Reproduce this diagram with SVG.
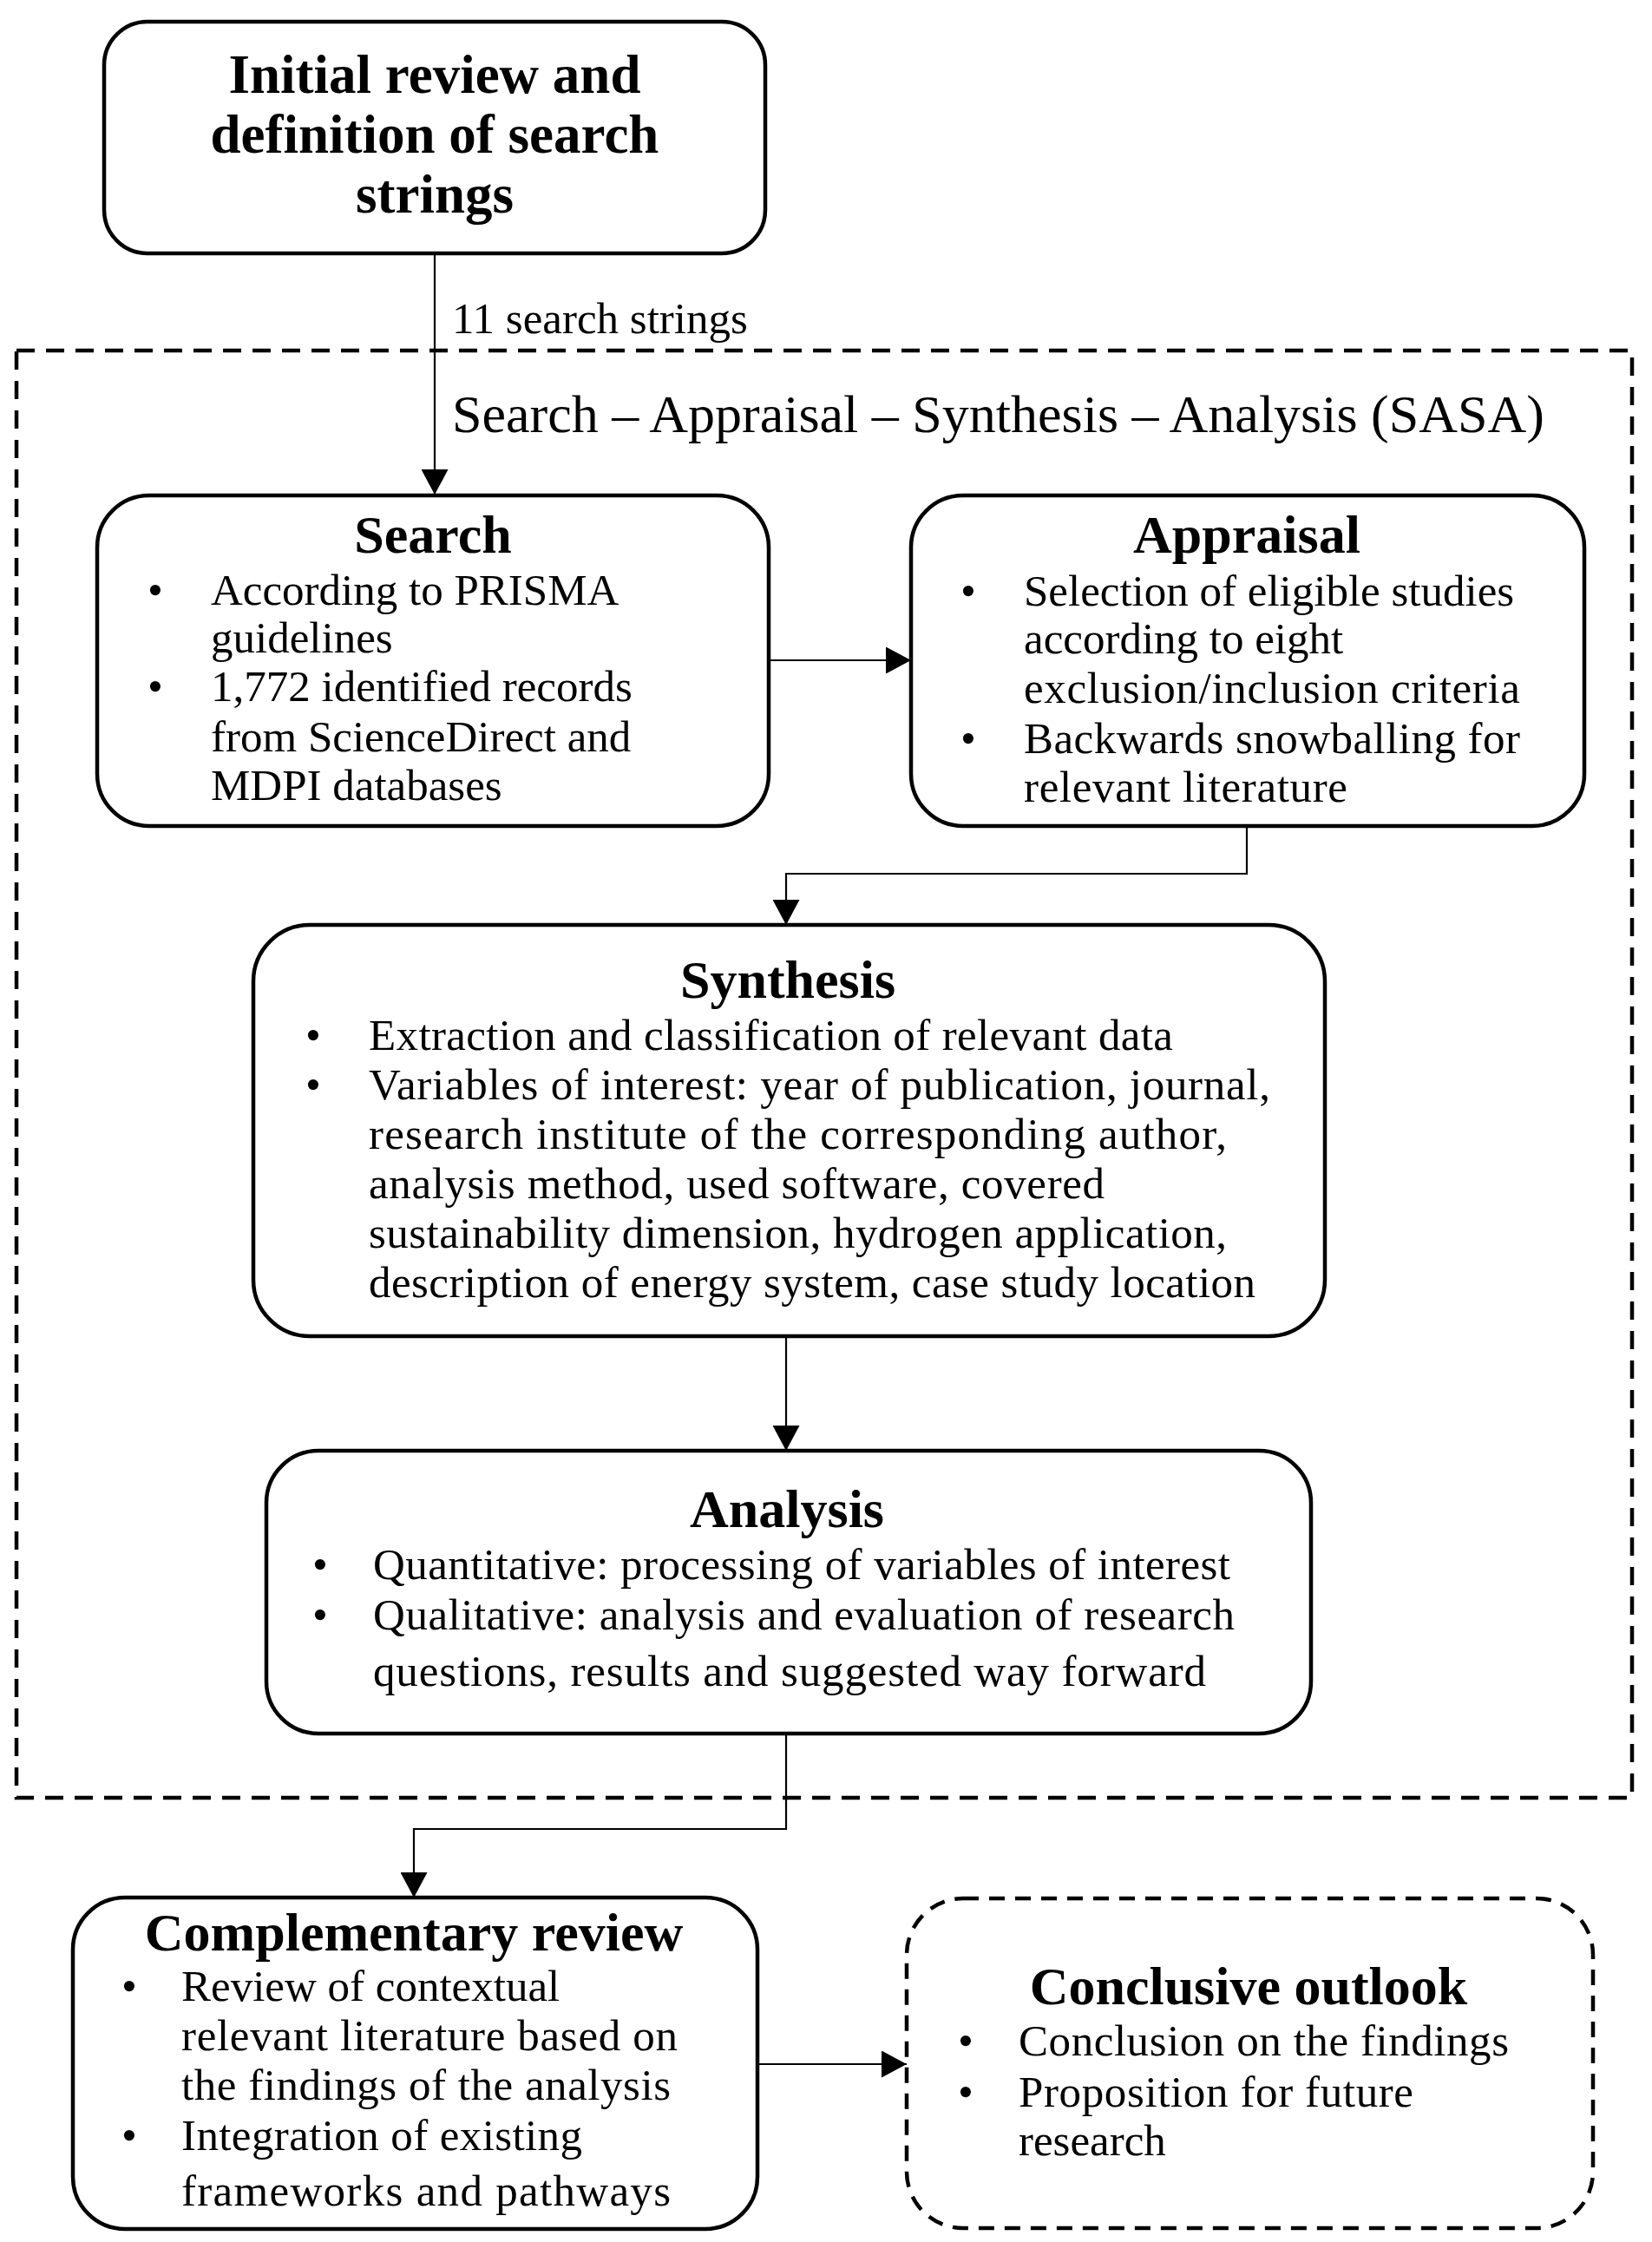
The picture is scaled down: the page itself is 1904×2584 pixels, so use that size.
<svg xmlns="http://www.w3.org/2000/svg" width="1904" height="2584" viewBox="0 0 1904 2584">
<style>
.box{fill:#fff;stroke:#000;stroke-width:4.5}
.dbox{fill:none;stroke:#000;stroke-width:4.5;stroke-dasharray:18 12}
.outer{fill:none;stroke:#000;stroke-width:4.5;stroke-dasharray:21 13}
.conn{fill:none;stroke:#000;stroke-width:2.2}
.t{font-family:"Liberation Serif","Times New Roman",serif;font-size:62px;font-weight:bold;text-anchor:middle;fill:#000}
.b{font-family:"Liberation Serif","Times New Roman",serif;font-size:51px;fill:#000}
.lbl{font-family:"Liberation Serif","Times New Roman",serif;font-size:51px;fill:#000}
.sasa{font-family:"Liberation Serif","Times New Roman",serif;font-size:62px;fill:#000}
</style>
<defs>
<marker id="arr" markerUnits="userSpaceOnUse" markerWidth="29" markerHeight="31" viewBox="0 0 29 31" refX="29" refY="15.5" orient="auto">
<path d="M0,0 L29,15.5 L0,31 z" fill="#000"/>
</marker>
</defs>
<rect fill="#fff" x="0" y="0" width="1904" height="2584"/>

<rect id="sasa-frame" class="outer" x="19" y="404" width="1862" height="1668"/>
<text class="sasa" x="521" y="498">Search – Appraisal – Synthesis – Analysis (SASA)</text>

<g id="connectors">
<path class="conn" d="M501,292 V570" marker-end="url(#arr)"/>
<path class="conn" d="M887,761 H1050" marker-end="url(#arr)"/>
<path class="conn" d="M1437,952 V1007 H906 V1066" marker-end="url(#arr)"/>
<path class="conn" d="M906,1540 V1672" marker-end="url(#arr)"/>
<path class="conn" d="M906,1998 V2108 H477 V2187" marker-end="url(#arr)"/>
<path class="conn" d="M873,2379 H1045" marker-end="url(#arr)"/>
<text class="lbl" x="521" y="384">11 search strings</text>
</g>

<g id="initial-review">
<rect class="box" x="120" y="25" width="762" height="267" rx="50"/>
<text class="t" style="font-size:63px" x="501" y="107">Initial review and</text>
<text class="t" style="font-size:63px" x="501" y="176">definition of search</text>
<text class="t" style="font-size:63px" x="501" y="245">strings</text>
</g>

<g id="search">
<rect class="box" x="112" y="571" width="774" height="381" rx="60"/>
<text class="t" x="499" y="637">Search</text>
<text class="b" x="170" y="697">•</text>
<text class="b" x="243" y="697">According to PRISMA</text>
<text class="b" x="243" y="752">guidelines</text>
<text class="b" x="170" y="808">•</text>
<text class="b" x="243" y="808">1,772 identified records</text>
<text class="b" x="243" y="866">from ScienceDirect and</text>
<text class="b" x="243" y="922">MDPI databases</text>
</g>

<g id="appraisal">
<rect class="box" x="1050" y="571" width="776" height="381" rx="60"/>
<text class="t" x="1437" y="637">Appraisal</text>
<text class="b" x="1107" y="698">•</text>
<text class="b" x="1180" y="698">Selection of eligible studies</text>
<text class="b" x="1180" y="753">according to eight</text>
<text class="b" x="1180" y="810" textLength="572" lengthAdjust="spacing">exclusion/inclusion criteria</text>
<text class="b" x="1107" y="868">•</text>
<text class="b" x="1180" y="868" textLength="572" lengthAdjust="spacing">Backwards snowballing for</text>
<text class="b" x="1180" y="924" textLength="373" lengthAdjust="spacing">relevant literature</text>
</g>

<g id="synthesis">
<rect class="box" x="292" y="1066" width="1235" height="474" rx="65"/>
<text class="t" x="908" y="1150">Synthesis</text>
<text class="b" x="352" y="1210">•</text>
<text class="b" x="425" y="1210" textLength="927" lengthAdjust="spacing">Extraction and classification of relevant data</text>
<text class="b" x="352" y="1267">•</text>
<text class="b" x="425" y="1267" textLength="1039" lengthAdjust="spacing">Variables of interest: year of publication, journal,</text>
<text class="b" x="425" y="1324" textLength="989" lengthAdjust="spacing">research institute of the corresponding author,</text>
<text class="b" x="425" y="1381" textLength="848" lengthAdjust="spacing">analysis method, used software, covered</text>
<text class="b" x="425" y="1438" textLength="989" lengthAdjust="spacing">sustainability dimension, hydrogen application,</text>
<text class="b" x="425" y="1495" textLength="1022" lengthAdjust="spacing">description of energy system, case study location</text>
</g>

<g id="analysis">
<rect class="box" x="307" y="1672" width="1204" height="326" rx="60"/>
<text class="t" x="907" y="1760">Analysis</text>
<text class="b" x="360" y="1820">•</text>
<text class="b" x="430" y="1820" textLength="988" lengthAdjust="spacing">Quantitative: processing of variables of interest</text>
<text class="b" x="360" y="1878">•</text>
<text class="b" x="430" y="1878" textLength="993" lengthAdjust="spacing">Qualitative: analysis and evaluation of research</text>
<text class="b" x="430" y="1943" textLength="960" lengthAdjust="spacing">questions, results and suggested way forward</text>
</g>

<g id="complementary-review">
<rect class="box" x="84" y="2187" width="789" height="382" rx="60"/>
<text class="t" x="477" y="2248">Complementary review</text>
<text class="b" x="140" y="2306">•</text>
<text class="b" x="209" y="2306">Review of contextual</text>
<text class="b" x="209" y="2363" textLength="572" lengthAdjust="spacing">relevant literature based on</text>
<text class="b" x="209" y="2420" textLength="564" lengthAdjust="spacing">the findings of the analysis</text>
<text class="b" x="140" y="2478">•</text>
<text class="b" x="209" y="2478" textLength="462" lengthAdjust="spacing">Integration of existing</text>
<text class="b" x="209" y="2542" textLength="564" lengthAdjust="spacing">frameworks and pathways</text>
</g>

<g id="conclusive-outlook">
<rect class="dbox" x="1045" y="2188" width="791" height="380" rx="65"/>
<text class="t" x="1439" y="2310">Conclusive outlook</text>
<text class="b" x="1104" y="2369">•</text>
<text class="b" x="1174" y="2369" textLength="565" lengthAdjust="spacing">Conclusion on the findings</text>
<text class="b" x="1104" y="2428">•</text>
<text class="b" x="1174" y="2428" textLength="455" lengthAdjust="spacing">Proposition for future</text>
<text class="b" x="1174" y="2484">research</text>
</g>
</svg>
